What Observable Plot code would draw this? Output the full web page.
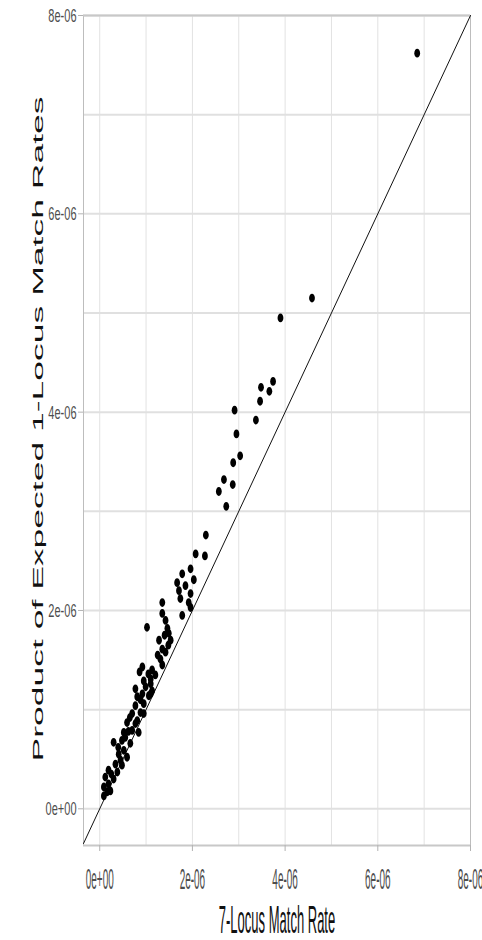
<!DOCTYPE html>
<html><head><meta charset="utf-8">
<script src="https://cdn.jsdelivr.net/npm/d3@7"></script>
<script src="https://cdn.jsdelivr.net/npm/@observablehq/plot@0.6"></script>
<style>html,body{margin:0;padding:0;background:#fff;overflow:hidden;}</style>
</head><body><div id="chart"></div>
<script>
// 7-locus match rate (x) and product of expected 1-locus match rates (y)
const locus7Rate = [
  6.85e-6, 4.58e-6, 3.90e-6, 3.48e-6, 3.74e-6, 3.66e-6, 3.46e-6, 3.37e-6, 2.91e-6, 2.95e-6,
  3.03e-6, 2.88e-6, 2.68e-6, 2.87e-6, 2.57e-6, 2.73e-6, 2.29e-6, 2.07e-6, 2.27e-6, 1.96e-6,
  1.78e-6, 2.03e-6, 1.85e-6, 1.67e-6, 1.71e-6, 1.96e-6, 1.74e-6, 1.92e-6, 1.96e-6, 1.35e-6,
  1.35e-6, 1.78e-6, 1.02e-6, 1.42e-6, 1.46e-6, 1.49e-6, 1.28e-6, 1.53e-6, 1.35e-6, 1.31e-6,
  1.35e-6, 0.92e-6, 1.13e-6, 0.86e-6, 0.95e-6, 1.10e-6, 0.77e-6, 0.99e-6, 0.92e-6, 1.10e-6,
  0.81e-6, 1.10e-6, 1.06e-6, 0.88e-6, 0.95e-6, 0.77e-6, 0.70e-6, 0.88e-6, 0.81e-6, 0.59e-6,
  0.70e-6, 0.84e-6, 0.52e-6, 0.30e-6, 0.48e-6, 0.66e-6, 0.52e-6, 0.41e-6, 0.59e-6, 0.34e-6,
  0.48e-6, 0.19e-6, 0.38e-6, 0.12e-6, 0.30e-6, 0.19e-6, 0.09e-6, 0.16e-6, 0.09e-6, 0.23e-6,
  0.45e-6, 0.77e-6, 0.95e-6, 1.13e-6, 1.40e-6, 1.48e-6, 1.42e-6, 1.25e-6, 1.20e-6, 1.05e-6,
  0.65e-6, 0.55e-6, 0.40e-6, 0.25e-6, 0.62e-6
];
const productRate = [
  7.62e-6, 5.15e-6, 4.95e-6, 4.25e-6, 4.31e-6, 4.21e-6, 4.11e-6, 3.92e-6, 4.02e-6, 3.78e-6,
  3.56e-6, 3.49e-6, 3.32e-6, 3.27e-6, 3.20e-6, 3.05e-6, 2.76e-6, 2.57e-6, 2.55e-6, 2.42e-6,
  2.37e-6, 2.31e-6, 2.25e-6, 2.28e-6, 2.20e-6, 2.17e-6, 2.12e-6, 2.08e-6, 2.03e-6, 2.08e-6,
  1.97e-6, 1.95e-6, 1.83e-6, 1.90e-6, 1.82e-6, 1.77e-6, 1.70e-6, 1.70e-6, 1.61e-6, 1.51e-6,
  1.45e-6, 1.43e-6, 1.40e-6, 1.38e-6, 1.29e-6, 1.31e-6, 1.21e-6, 1.23e-6, 1.16e-6, 1.16e-6,
  1.13e-6, 1.26e-6, 1.14e-6, 1.10e-6, 1.06e-6, 1.04e-6, 0.96e-6, 0.97e-6, 0.89e-6, 0.87e-6,
  0.79e-6, 0.77e-6, 0.77e-6, 0.67e-6, 0.69e-6, 0.66e-6, 0.59e-6, 0.55e-6, 0.52e-6, 0.45e-6,
  0.44e-6, 0.39e-6, 0.37e-6, 0.32e-6, 0.30e-6, 0.25e-6, 0.22e-6, 0.17e-6, 0.13e-6, 0.18e-6,
  0.49e-6, 0.86e-6, 0.96e-6, 1.19e-6, 1.75e-6, 1.65e-6, 1.58e-6, 1.55e-6, 1.35e-6, 1.36e-6,
  0.92e-6, 0.72e-6, 0.62e-6, 0.35e-6, 0.78e-6
];
const xDomain = [-0.35e-6, 8e-6];
const yDomain = [-0.37e-6, 8e-6];
const majorTicks = [0, 2e-6, 4e-6, 6e-6, 8e-6];
const minorTicks = [1e-6, 3e-6, 5e-6, 7e-6];
const tickLabels = ["0e+00", "2e-06", "4e-06", "6e-06", "8e-06"];
const xTitle = "7-Locus Match Rate";
const yTitle = "Product of Expected 1-Locus Match Rates";

const points = locus7Rate.map((x, i) => ({x, y: productRate[i]}));
const allGrid = majorTicks.concat(minorTicks);
const labelOf = (d) => tickLabels[majorTicks.indexOf(d)];

// ellipse symbol (points are drawn taller than wide in the reference)
const ellipse = {
  draw(ctx) {
    const rx = 2.9, ry = 4.4, k = 0.5523;
    ctx.moveTo(rx, 0);
    ctx.bezierCurveTo(rx, k * ry, k * rx, ry, 0, ry);
    ctx.bezierCurveTo(-k * rx, ry, -rx, k * ry, -rx, 0);
    ctx.bezierCurveTo(-rx, -k * ry, -k * rx, -ry, 0, -ry);
    ctx.bezierCurveTo(k * rx, -ry, rx, -k * ry, rx, 0);
    ctx.closePath();
  }
};

const font = "'Liberation Sans', Arial, sans-serif";

const plot = Plot.plot({
  width: 482,
  height: 940,
  marginLeft: 83,
  marginRight: 12,
  marginTop: 15,
  marginBottom: 95,
  style: {fontFamily: font, background: "#fff"},
  x: {domain: xDomain},
  y: {domain: yDomain},
  marks: [
    Plot.ruleX(allGrid, {stroke: "#e2e2e2", strokeWidth: 1}),
    Plot.ruleY(allGrid, {stroke: "#e0e0e0", strokeWidth: 2}),
    Plot.ruleX(xDomain, {stroke: "#bdbdbd", strokeWidth: 1}),
    Plot.ruleY(yDomain, {stroke: "#c8c8c8", strokeWidth: 2}),
    Plot.axisX({ticks: majorTicks, tickSize: 6, tickFormat: () => "", stroke: "#b3b3b3", label: null}),
    Plot.axisY({ticks: majorTicks, tickSize: 5, tickFormat: () => "", stroke: "#b3b3b3", label: null}),
    Plot.line(xDomain, {x: (d) => d, y: (d) => d, stroke: "#111", strokeWidth: 1}),
    Plot.dot(points, {x: "x", y: "y", symbol: ellipse, fill: "#000", stroke: null}),
    Plot.text(majorTicks, {x: (d) => d, text: labelOf, frameAnchor: "bottom", dy: 43,
      lineAnchor: "bottom", fontSize: 10.5, fill: "#4d4d4d"}),
    Plot.text(majorTicks, {y: (d) => d, text: labelOf, frameAnchor: "left", dx: -7, dy: 6.5,
      textAnchor: "end", lineAnchor: "bottom", fontSize: 11, fill: "#4d4d4d"}),
    Plot.text([xTitle], {text: (d) => d, frameAnchor: "bottom", dy: 87, lineAnchor: "bottom",
      fontSize: 14, fill: "#111"}),
    Plot.text([yTitle], {text: (d) => d, frameAnchor: "left", dx: -41, dy: 331, rotate: -90,
      textAnchor: "start", lineAnchor: "bottom", fontSize: 15, fill: "#111"})
  ]
});

// text mark groups, in the order declared above
const textGroups = Array.from(plot.querySelectorAll('g[aria-label="text"]'));
function stretch(g, sx, sy) {
  if (!g) return;
  g.querySelectorAll("text").forEach((t) => {
    t.setAttribute("transform", (t.getAttribute("transform") || "") + ` scale(${sx},${sy})`);
  });
}
stretch(textGroups[0], 0.95, 2.85);
stretch(textGroups[1], 1, 1.65);
stretch(textGroups[2], 0.93, 2.8);
if (textGroups[3]) {
  textGroups[3].querySelectorAll("text").forEach((t) => {
    t.setAttribute("textLength", "665");
    t.setAttribute("lengthAdjust", "spacingAndGlyphs");
  });
}

document.getElementById("chart").appendChild(plot);
</script>
</body></html>
